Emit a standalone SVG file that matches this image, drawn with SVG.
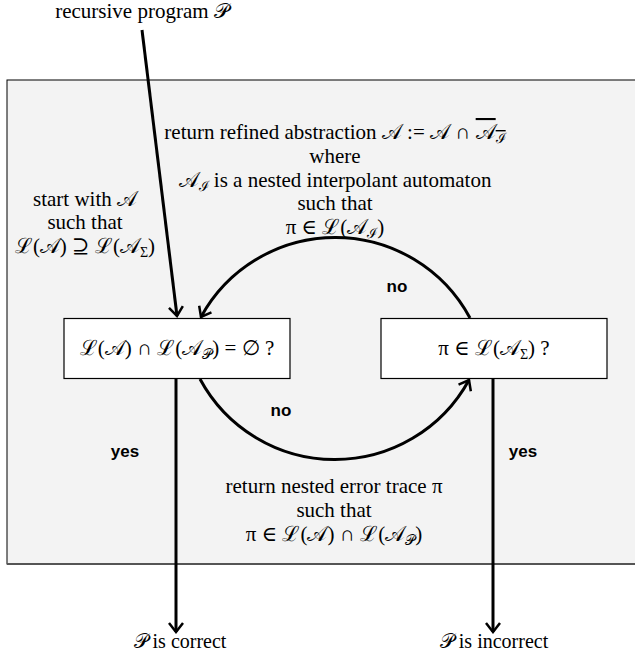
<svg xmlns="http://www.w3.org/2000/svg" width="635" height="655" viewBox="0 0 635 655">
<style>
text{font-family:"Liberation Serif","DejaVu Serif",serif;font-size:21px;fill:#000;text-anchor:middle}
.lbl{font-family:"Liberation Sans",Arial,sans-serif;font-weight:bold;font-size:17px}
.sub{font-size:14px}
.res{font-size:20px}
.box{fill:#fff;stroke:#000;stroke-width:1.2}
.con{fill:none;stroke:#000;stroke-width:3}
</style>
<defs>
<marker id="ar" markerUnits="userSpaceOnUse" viewBox="-12 -10 14 20" refX="0" refY="0" markerWidth="14" markerHeight="20" orient="auto">
<path d="M-9,-7 L0,0 L-9,7" fill="none" stroke="#000" stroke-width="2.5"/>
</marker>
</defs>
<g id="frame">
<rect x="7" y="80" width="640" height="484" fill="#f3f3f3" stroke="#000" stroke-width="1"/>
<line x1="7" y1="564" x2="635" y2="564" stroke="#555" stroke-width="2"/>
</g>
<g id="check-empty">
<rect class="box" x="64" y="318.5" width="226" height="60"/>
<text x="177" y="355">ℒ(𝒜) ∩ ℒ(𝒜<tspan class="sub" dy="4">𝒫</tspan><tspan dy="-4">) = ∅ ?</tspan></text>
</g>
<g id="check-feasible">
<rect class="box" x="381" y="318.5" width="226" height="60"/>
<text x="494" y="355">π ∈ ℒ(𝒜<tspan class="sub" dy="4">Σ</tspan><tspan dy="-4">) ?</tspan></text>
</g>
<g id="input">
<text x="142" y="18">recursive program 𝒫</text>
</g>
<g id="start-label">
<text x="85" y="206">start with 𝒜</text>
<text x="85" y="229">such that</text>
<text x="85" y="253">ℒ(𝒜) ⊇ ℒ(𝒜<tspan class="sub" dy="4">Σ</tspan><tspan dy="-4">)</tspan></text>
</g>
<g id="refine-label">
<text x="335" y="139">return refined abstraction 𝒜 := 𝒜 ∩ <tspan text-decoration="overline">𝒜<tspan class="sub" dy="4">ℐ</tspan></tspan></text>
<text x="335" y="163">where</text>
<text x="335" y="187">𝒜<tspan class="sub" dy="4">ℐ</tspan><tspan dy="-4"> is a nested interpolant automaton</tspan></text>
<text x="335" y="210">such that</text>
<text x="335" y="234">π ∈ ℒ(𝒜<tspan class="sub" dy="4">ℐ</tspan><tspan dy="-4">)</tspan></text>
</g>
<g id="trace-label">
<text x="334" y="493">return nested error trace π</text>
<text x="334" y="517">such that</text>
<text x="334" y="541">π ∈ ℒ(𝒜) ∩ ℒ(𝒜<tspan class="sub" dy="4">𝒫</tspan><tspan dy="-4">)</tspan></text>
</g>
<g id="result-correct">
<text class="res" x="180" y="648">𝒫 is correct</text>
</g>
<g id="result-incorrect">
<text class="res" x="494" y="648">𝒫 is incorrect</text>
</g>
<g id="connectors">
<path class="con" d="M142,30 L177,316" stroke-width="2.5" marker-end="url(#ar)"/>
<path class="con" d="M470,318 A153,153 0 0 0 201,317" marker-end="url(#ar)"/>
<path class="con" d="M200,379 A153,153 0 0 0 469,380" marker-end="url(#ar)"/>
<path class="con" d="M176,379 L176,632" marker-end="url(#ar)"/>
<path class="con" d="M493,379 L493,632" marker-end="url(#ar)"/>
<text class="lbl" x="397" y="292">no</text>
<text class="lbl" x="281" y="416">no</text>
<text class="lbl" x="125" y="457">yes</text>
<text class="lbl" x="523" y="457">yes</text>
</g>
</svg>
